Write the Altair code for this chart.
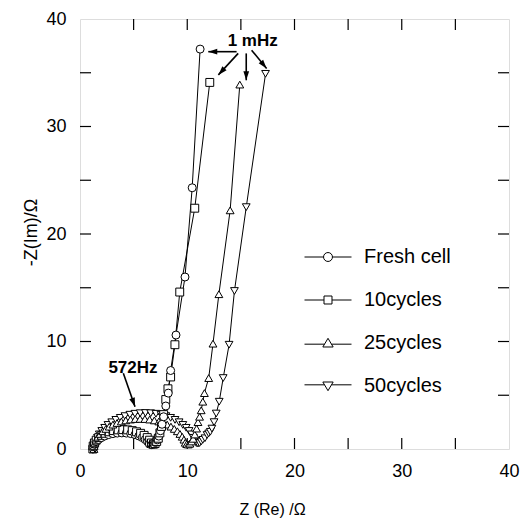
import math
import altair as alt
import pandas as pd

# ---------------- data ----------------
series_names = ["Fresh cell", "10cycles", "25cycles", "50cycles"]

fresh_x = [1.20, 1.23, 1.33, 1.49, 1.72, 1.99, 2.31, 2.67, 3.07, 3.48, 3.90, 4.32, 4.73, 5.13, 5.49,
           5.81, 6.08, 6.31, 6.47, 6.70, 6.90, 7.05, 7.20, 7.35, 7.50, 7.65, 7.80, 8.00, 8.23, 8.45,
           8.95, 9.79, 10.46, 11.20]
fresh_y = [0.00, 0.23, 0.46, 0.68, 0.88, 1.06, 1.21, 1.34, 1.43, 1.48, 1.50, 1.48, 1.43, 1.34, 1.21,
           1.06, 0.88, 0.68, 0.46, 0.40, 0.45, 0.60, 0.85, 1.20, 1.70, 2.30, 3.00, 4.00, 5.20, 7.30,
           10.60, 16.00, 24.30, 37.20]

c10_x = [1.20, 1.23, 1.34, 1.51, 1.74, 2.02, 2.35, 2.73, 3.13, 3.56, 4.00, 4.44, 4.87, 5.27, 5.65,
         5.98, 6.27, 6.49, 6.66, 6.85, 7.00, 7.15, 7.30, 7.45, 7.60, 7.80, 8.00, 8.20, 8.45, 8.85,
         9.30, 10.70, 12.10]
c10_y = [0.00, 0.28, 0.56, 0.82, 1.06, 1.27, 1.46, 1.60, 1.71, 1.78, 1.80, 1.78, 1.71, 1.60, 1.46,
         1.27, 1.06, 0.82, 0.56, 0.45, 0.50, 0.70, 1.00, 1.50, 2.10, 3.20, 4.60, 5.60, 6.70, 9.70,
         14.60, 22.40, 34.10]

c25_x = [1.30, 1.32, 1.39, 1.51, 1.67, 1.88, 2.12, 2.41, 2.72, 3.07, 3.45, 3.85, 4.27, 4.71, 5.15,
         5.60, 6.05, 6.49, 6.93, 7.35, 7.75, 8.13, 8.48, 8.79, 9.08, 9.32, 9.53, 9.69, 9.81, 9.95,
         10.10, 10.25, 10.40, 10.55, 10.70, 10.87, 11.00, 11.15, 11.30, 11.45, 11.60, 12.00, 12.40,
         12.95, 14.00, 14.90]
c25_y = [0.00, 0.29, 0.58, 0.87, 1.14, 1.40, 1.65, 1.87, 2.08, 2.27, 2.42, 2.56, 2.66, 2.74, 2.79,
         2.80, 2.79, 2.74, 2.66, 2.56, 2.42, 2.27, 2.08, 1.87, 1.65, 1.40, 1.14, 0.87, 0.58, 0.45,
         0.42, 0.50, 0.70, 0.95, 1.35, 1.90, 2.50, 3.00, 3.60, 4.40, 5.20, 6.60, 9.80,
         14.40, 22.20, 33.90]

c50_x = [1.40, 1.42, 1.50, 1.63, 1.80, 2.03, 2.30, 2.61, 2.96, 3.34, 3.75, 4.19, 4.65, 5.12, 5.61,
         6.10, 6.59, 7.08, 7.55, 8.01, 8.45, 8.86, 9.24, 9.59, 9.90, 10.17, 10.40, 10.57, 10.70,
         10.85, 11.00, 11.15, 11.30, 11.45, 11.65, 11.85, 12.00, 12.15, 12.30, 12.50, 12.70, 12.98,
         13.35, 13.90, 14.40, 15.50, 17.30]
c50_y = [0.00, 0.35, 0.70, 1.04, 1.36, 1.68, 1.97, 2.24, 2.49, 2.71, 2.90, 3.06, 3.19, 3.28, 3.33,
         3.35, 3.33, 3.28, 3.19, 3.06, 2.90, 2.71, 2.49, 2.24, 1.97, 1.68, 1.36, 1.04, 0.70,
         0.55, 0.50, 0.55, 0.70, 0.85, 1.00, 1.30, 1.45, 1.60, 1.90, 2.50, 3.30, 4.40,
         6.60, 9.70, 14.70, 22.50, 34.90]

axis_values = [0, 10, 20, 30, 40]
minor_ticks = [5, 10, 15, 20, 25, 30, 35]

# annotations (data coordinates)
ann_text = ["1 mHz", "572Hz"]
ann_x = [16.1, 4.94]
ann_y = [37.95, 7.58]

arrow_x = [14.6, 14.75, 15.5, 16.0, 4.04]
arrow_y = [36.96, 36.8, 36.8, 37.1, 7.04]
arrow_x2 = [11.96, 12.9, 15.5, 17.4, 5.13]
arrow_y2 = [36.96, 34.8, 34.3, 35.4, 3.93]

# ---------------- build tables ----------------
rows = []
for name, xs, ys in zip(series_names, [fresh_x, c10_x, c25_x, c50_x],
                        [fresh_y, c10_y, c25_y, c50_y]):
    for i, (xv, yv) in enumerate(zip(xs, ys)):
        rows.append({"series": name, "idx": i, "zre": xv, "zim": yv})
df = pd.DataFrame(rows)

W, H = 429, 430
FONT = "Liberation Sans"
xscale = alt.Scale(domain=[0, 40], nice=False, zero=False)
yscale = alt.Scale(domain=[0, 40], nice=False, zero=False)

x_axis = alt.Axis(values=axis_values, ticks=False, grid=False, domain=False,
                  labelFont=FONT, labelFontSize=18, labelColor="black", labelPadding=13,
                  labelFlush=False, format="d",
                  title="Z (Re) /Ω", titleFont=FONT, titleFontSize=16, titleFontWeight="normal",
                  titleColor="black", titleX=192, titleY=65, titleBaseline="alphabetic")
y_axis = alt.Axis(values=axis_values, ticks=False, grid=False, domain=False,
                  labelFont=FONT, labelFontSize=18, labelColor="black", labelPadding=14,
                  labelFlush=False, format="d",
                  title="-Z(Im)/Ω", titleFont=FONT, titleFontSize=18, titleFontWeight="normal",
                  titleColor="black", titleX=-49, titleY=213, titleBaseline="middle")

X = lambda f: alt.X(f, scale=xscale, axis=x_axis)
Y = lambda f: alt.Y(f, scale=yscale, axis=y_axis)

base = alt.Chart(df)

lines = base.mark_line(color="black", strokeWidth=1).encode(
    x=X("zre:Q"), y=Y("zim:Q"), detail="series:N", order="idx:Q")

points = base.mark_point(filled=True, fill="white", stroke="black", strokeWidth=1, opacity=1).encode(
    x=X("zre:Q"), y=Y("zim:Q"),
    shape=alt.Shape("series:N", scale=alt.Scale(domain=series_names,
                    range=["circle", "square", "triangle-up", "triangle-down"]), legend=None),
    size=alt.Size("series:N", scale=alt.Scale(domain=series_names, range=[64, 60, 80, 80]), legend=None),
    order="idx:Q")

legend_paths = [
    "M-1,0L-0.19,0M0.19,0L1,0M-0.19,0A0.19,0.19 0 1 0 0.19,0A0.19,0.19 0 1 0 -0.19,0Z",
    "M-1,0L-0.17,0M0.17,0L1,0M-0.17,-0.17L0.17,-0.17L0.17,0.17L-0.17,0.17Z",
    "M-1,0.05L-0.15,0.05M0.15,0.05L1,0.05M0,-0.2L0.22,0.17L-0.22,0.17Z",
    "M-1,-0.05L-0.15,-0.05M0.15,-0.05L1,-0.05M0,0.2L0.22,-0.17L-0.22,-0.17Z",
]
legend_layer = base.transform_filter("false").mark_point(
    filled=False, color="black", strokeWidth=1, opacity=1, size=2209).encode(
    x=X("zre:Q"), y=Y("zim:Q"),
    shape=alt.Shape("series:N", scale=alt.Scale(domain=series_names, range=legend_paths),
                    legend=alt.Legend(title=None, orient="none", legendX=224, legendY=214,
                                      labelFont=FONT, labelFontSize=20, labelColor="black",
                                      symbolSize=2209, symbolStrokeColor="black",
                                      symbolStrokeWidth=1,
                                      symbolOpacity=1, rowPadding=9, labelOffset=12,
                                      padding=0)))

tick_df = pd.DataFrame({"v": minor_ticks})
tb = alt.Chart(tick_df)
tick_style = dict(color="black", strokeWidth=1.2)
t_bottom = tb.mark_rule(**tick_style).encode(x=X("v:Q"), y=alt.value(H), y2=alt.value(H - 11))
t_top = tb.mark_rule(**tick_style).encode(x=X("v:Q"), y=alt.value(0), y2=alt.value(11))
t_left = tb.mark_rule(**tick_style).encode(y=Y("v:Q"), x=alt.value(0), x2=alt.value(11))
t_right = tb.mark_rule(**tick_style).encode(y=Y("v:Q"), x=alt.value(W), x2=alt.value(W - 11))

arr_df = pd.DataFrame({"x": arrow_x, "y": arrow_y, "x2": arrow_x2, "y2": arrow_y2})
# arrow-head rotation (clockwise from up, screen space)
sx, sy = W / 40.0, H / 40.0
arr_df["ang"] = [(math.degrees(math.atan2((b - a) * sx, (d - c) * sy)) + 360) % 360
                 for a, b, c, d in zip(arrow_x, arrow_x2, arrow_y, arrow_y2)]
ab = alt.Chart(arr_df)
arrow_lines = ab.mark_rule(color="black", strokeWidth=1.6).encode(
    x=X("x:Q"), y=Y("y:Q"), x2="x2:Q", y2="y2:Q")
arrow_heads = ab.mark_point(shape="M0,0L-0.32,1L0.32,1Z", filled=True, color="black",
                            opacity=1, size=324).encode(
    x=X("x2:Q"), y=Y("y2:Q"), angle=alt.Angle("ang:Q", scale=None))

ann_df = pd.DataFrame({"t": ann_text, "x": ann_x, "y": ann_y})
ann = alt.Chart(ann_df).mark_text(font=FONT, fontSize=17, fontWeight="bold", color="black",
                                  align="center", baseline="middle").encode(
    x=X("x:Q"), y=Y("y:Q"), text="t:N")

chart = alt.layer(
    t_bottom, t_top, t_left, t_right, lines, points, legend_layer, arrow_lines, arrow_heads, ann
).resolve_scale(shape="independent", size="independent").properties(
    width=W, height=H,
    autosize=alt.AutoSizeParams(type="none"),
    padding={"left": 80, "top": 19, "right": 12, "bottom": 70},
).configure_view(stroke="black", strokeWidth=1.5).configure(background="white")

chart.save("out.html", embed_options={"renderer": "svg", "actions": False})
